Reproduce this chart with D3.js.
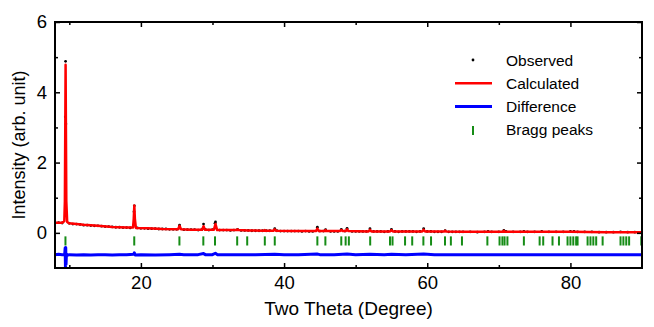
<!DOCTYPE html>
<html>
<head>
<meta charset="utf-8">
<script src="https://cdn.jsdelivr.net/npm/d3@7"></script>
<style>
  body { margin: 0; background: #fff; }
  text { font-family: "Liberation Sans", Arial, sans-serif; fill: #000; }
</style>
</head>
<body>
<div id="chart"></div>
<script>
// calculated profile (two theta, intensity)
const calcPts = [
  [8,0.29],[8.5,0.29],[9,0.29],[9.3,0.33],[9.38,0.9],[9.44,3.2],[9.48,4.78],[9.52,3.2],[9.58,0.9],[9.7,0.31],
  [10,0.27],[11,0.25],[12,0.23],[14,0.2],[16,0.17],[18,0.15],[18.9,0.15],[19.0,0.4],[19.08,0.78],[19.16,0.4],
  [19.3,0.14],[21,0.13],[23,0.11],[25.2,0.1],[25.4,0.2],[25.6,0.1],[27,0.09],[28.55,0.09],[28.75,0.19],[28.95,0.09],
  [30.2,0.09],[30.42,0.25],[30.65,0.08],[32,0.08],[33.4,0.08],[33.5,0.1],[33.6,0.08],[35,0.07],[37.2,0.06],[37.3,0.08],
  [37.4,0.06],[38.5,0.06],[38.7,0.1],[38.9,0.06],[41,0.05],[44.45,0.05],[44.65,0.12],[44.85,0.05],[45.7,0.05],[45.8,0.08],
  [45.9,0.05],[47.8,0.05],[48,0.08],[48.2,0.05],[48.6,0.05],[48.8,0.1],[49,0.05],[51.8,0.04],[52,0.09],[52.2,0.04],
  [54.8,0.04],[55,0.08],[55.2,0.04],[59.3,0.04],[59.5,0.09],[59.7,0.04],[62.4,0.04],[62.5,0.06],[62.6,0.04],[65,0.03],
  [70.6,0.03],[70.7,0.06],[70.8,0.03],[75,0.03],[80,0.03],[85,0.02],[90,0.02]
];

// observed points
const obsPts = [
  [8,0.28],[8.5,0.29],[9,0.28],[9.44,3.3],[9.48,4.88],[9.52,3.1],[10,0.27],[10.5,0.25],[11,0.25],[11.5,0.24],
  [12,0.22],[12.5,0.22],[13,0.21],[13.5,0.2],[14,0.2],[14.5,0.19],[15,0.18],[15.5,0.18],[16,0.17],[16.5,0.16],
  [17,0.16],[17.5,0.15],[18,0.15],[18.5,0.14],[19.04,0.6],[19.08,0.77],[19.5,0.14],[20,0.13],[20.5,0.13],[21,0.12],
  [21.5,0.12],[22,0.12],[22.5,0.11],[23,0.11],[23.5,0.11],[24,0.1],[24.5,0.1],[25,0.1],[25.4,0.22],[26,0.09],
  [26.5,0.09],[27,0.09],[27.5,0.09],[28,0.08],[28.5,0.09],[28.75,0.25],[29,0.1],[29.5,0.08],[30,0.09],[30.35,0.27],
  [30.42,0.31],[31,0.08],[31.5,0.08],[32,0.08],[32.5,0.07],[33,0.08],[33.5,0.1],[34,0.07],[34.5,0.07],[35,0.07],
  [35.5,0.06],[36,0.06],[36.5,0.06],[37,0.06],[37.5,0.06],[38,0.06],[38.7,0.12],[39,0.06],[39.5,0.05],[40,0.05],
  [40.5,0.05],[41,0.05],[41.5,0.05],[42,0.05],[42.5,0.04],[43,0.05],[43.5,0.04],[44,0.04],[44.65,0.16],[45,0.05],
  [45.5,0.05],[45.8,0.09],[46.5,0.04],[47,0.04],[47.5,0.04],[48,0.1],[48.5,0.05],[48.8,0.13],[49.5,0.04],[50,0.04],
  [50.5,0.04],[51,0.04],[51.5,0.04],[52,0.12],[52.5,0.04],[53,0.04],[53.5,0.04],[54,0.03],[54.5,0.04],[55,0.1],
  [55.5,0.04],[56,0.03],[56.5,0.04],[57,0.04],[57.5,0.04],[58,0.04],[58.5,0.03],[59,0.04],[59.5,0.12],[60,0.04],
  [60.5,0.04],[61,0.03],[61.5,0.03],[62,0.03],[62.5,0.06],[63,0.03],[63.5,0.03],[64,0.03],[64.5,0.03],[65,0.03],
  [66,0.03],[67,0.02],[68,0.03],[68.5,0.04],[69,0.03],[70,0.03],[70.7,0.07],[71,0.04],[72,0.03],[73,0.03],
  [73.5,0.04],[74,0.03],[75,0.03],[76,0.04],[77,0.03],[78,0.03],[79,0.03],[80,0.04],[80.5,0.04],[81,0.03],
  [82,0.03],[83,0.03],[84,0.02],[85,0.02],[86,0.02],[87,0.03],[88,0.02],[89,0.02],[90,0.02]
];

// difference curve (offset below zero)
const diffPts = [
  [8,-0.62],[8.5,-0.61],[9,-0.62],[9.35,-0.62],[9.42,-0.43],[9.46,-0.97],[9.5,-0.42],[9.54,-0.9],[9.6,-0.6],[9.7,-0.64],
  [10,-0.62],[11,-0.63],[12,-0.62],[13,-0.63],[14,-0.62],[15,-0.62],[16,-0.63],[17,-0.62],[18,-0.62],[19,-0.61],
  [19.08,-0.57],[19.2,-0.63],[20,-0.62],[22,-0.63],[24,-0.62],[25.4,-0.61],[26,-0.62],[28,-0.62],[28.75,-0.59],[29,-0.62],
  [30,-0.62],[30.4,-0.58],[30.7,-0.62],[32,-0.62],[34,-0.62],[36,-0.62],[38.7,-0.61],[40,-0.62],[42,-0.62],[44.6,-0.6],
  [45,-0.62],[47,-0.62],[48.8,-0.6],[50,-0.62],[52,-0.61],[54,-0.62],[55,-0.61],[57,-0.62],[59.5,-0.6],[61,-0.62],
  [65,-0.62],[70,-0.62],[75,-0.62],[80,-0.62],[85,-0.62],[90,-0.62]
];

// Bragg reflection positions
const braggPos = [9.46, 19.07, 25.38, 28.72, 30.35, 33.45, 34.85, 37.31, 38.7, 44.65, 45.77, 47.99, 48.6, 49.05,
  52.03, 54.8, 55.15, 56.9, 57.9, 59.46, 60.53, 62.48, 63.3, 64.85, 68.4, 70.1, 70.5, 70.8, 71.2, 73.5, 75.7, 76.2,
  77.5, 78.4, 79.6, 80.0, 80.4, 80.8, 81.0, 82.4, 82.8, 83.2, 83.6, 84.5, 87.0, 87.4, 87.8, 88.2, 89.9];
const braggTop = -0.1, braggBottom = -0.36;

const xMajor = [20, 40, 60, 80], xMinor = [10, 30, 50, 70];
const yMajor = [0, 2, 4, 6], yMinor = [1, 3, 5];
const legendLabels = ["Observed", "Calculated", "Difference", "Bragg peaks"];

const width = 654, height = 327;
const margin = {top: 22, right: 12, bottom: 59, left: 55};

const svg = d3.select("#chart")
  .append("svg")
  .attr("width", width)
  .attr("height", height);

const x = d3.scaleLinear().domain([8, 90]).range([margin.left, width - margin.right]);
const y = d3.scaleLinear().domain([-1, 6]).range([height - margin.bottom, margin.top]);

svg.append("clipPath").attr("id", "clip")
  .append("rect")
  .attr("x", margin.left).attr("y", margin.top)
  .attr("width", width - margin.left - margin.right)
  .attr("height", height - margin.top - margin.bottom);

const plot = svg.append("g").attr("clip-path", "url(#clip)");

const line = d3.line().x(d => x(d[0])).y(d => y(d[1]));

plot.append("path")
  .datum(diffPts)
  .attr("d", line)
  .attr("fill", "none")
  .attr("stroke", "#0000ff")
  .attr("stroke-width", 3)
  .attr("stroke-linejoin", "round");

// bragg ticks
plot.selectAll(".bragg")
  .data(braggPos)
  .enter()
  .append("line")
  .attr("x1", d => x(d)).attr("x2", d => x(d))
  .attr("y1", y(braggTop)).attr("y2", y(braggBottom))
  .attr("stroke", "#168c16")
  .attr("stroke-width", 2);

// observed dots
plot.selectAll(".obs")
  .data(obsPts)
  .enter()
  .append("circle")
  .attr("cx", d => x(d[0]))
  .attr("cy", d => y(d[1]))
  .attr("r", 1.4)
  .attr("fill", "#000");

plot.append("path")
  .datum(calcPts)
  .attr("d", line)
  .attr("fill", "none")
  .attr("stroke", "#ff0000")
  .attr("stroke-width", 2.5)
  .attr("stroke-linejoin", "round");

// axes, ticks pointing inward
function addAxis(axisFn, scale, pos, values, size, labels) {
  const ax = axisFn(scale).tickValues(values).tickSizeInner(-size).tickSizeOuter(0).tickPadding(8);
  ax.tickFormat(labels ? d3.format("d") : "");
  const g = svg.append("g").attr("transform", pos).call(ax);
  g.select(".domain").remove();
  g.selectAll("line").attr("stroke", "#000").attr("stroke-width", 1.5);
  g.selectAll("text").style("font-size", "18.5px").style("font-family", "Liberation Sans, Arial, sans-serif");
  return g;
}

const bottomY = `translate(0,${height - margin.bottom})`;
const topY = `translate(0,${margin.top})`;
const leftX = `translate(${margin.left},0)`;
const rightX = `translate(${width - margin.right},0)`;

addAxis(d3.axisBottom, x, bottomY, xMajor, 5, true);
addAxis(d3.axisBottom, x, bottomY, xMinor, 3, false);
addAxis(d3.axisTop, x, topY, xMajor, 5, false);
addAxis(d3.axisTop, x, topY, xMinor, 3, false);
addAxis(d3.axisLeft, y, leftX, yMajor, 5, true);
addAxis(d3.axisLeft, y, leftX, yMinor, 3, false);
addAxis(d3.axisRight, y, rightX, yMajor, 5, false);
addAxis(d3.axisRight, y, rightX, yMinor, 3, false);

svg.append("rect")
  .attr("x", margin.left).attr("y", margin.top)
  .attr("width", width - margin.left - margin.right)
  .attr("height", height - margin.top - margin.bottom)
  .attr("fill", "none")
  .attr("stroke", "#000")
  .attr("stroke-width", 2);

// axis titles
svg.append("text")
  .attr("x", (margin.left + width - margin.right) / 2)
  .attr("y", 315)
  .style("text-anchor", "middle")
  .style("font-size", "19px")
  .text("Two Theta (Degree)");

svg.append("text")
  .attr("transform", "rotate(-90)")
  .attr("x", -(margin.top + height - margin.bottom) / 2)
  .attr("y", 25)
  .style("text-anchor", "middle")
  .style("font-size", "18px")
  .text("Intensity (arb. unit)");

// legend
const legend = svg.append("g").attr("transform", "translate(455,60)");
const rowH = 23.3;

legend.append("circle").attr("cx", 18).attr("cy", 0).attr("r", 1.4).attr("fill", "#000");
legend.append("line").attr("x1", 0).attr("x2", 37).attr("y1", rowH).attr("y2", rowH)
  .attr("stroke", "#ff0000").attr("stroke-width", 2.4);
legend.append("line").attr("x1", 0).attr("x2", 37).attr("y1", rowH * 2).attr("y2", rowH * 2)
  .attr("stroke", "#0000ff").attr("stroke-width", 3);
legend.append("line").attr("x1", 18).attr("x2", 18).attr("y1", rowH * 3 - 4).attr("y2", rowH * 3 + 5)
  .attr("stroke", "#168c16").attr("stroke-width", 2);

legendLabels.forEach((t, i) => {
  legend.append("text")
    .attr("x", 51)
    .attr("y", i * rowH)
    .attr("dy", "0.36em")
    .style("font-size", "15.5px")
    .text(t);
});
</script>
</body>
</html>
